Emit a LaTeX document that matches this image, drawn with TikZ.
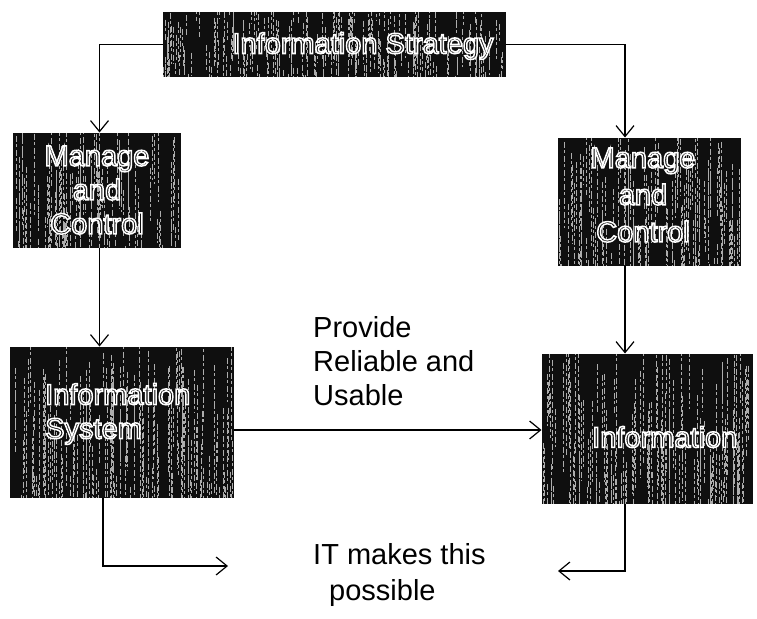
\documentclass[tikz,border=0pt]{standalone}
\usepackage{fontspec}
\setmainfont{Liberation Sans}
\usetikzlibrary{arrows.meta}
\definecolor{boxink}{gray}{0.06}

\tikzset{
  darkbox/.style={fill=boxink, draw=boxink, line width=1pt, inner sep=0pt},
  streak/.style={draw=white!68!black, line width=0.6pt,
                 dash pattern=on 6pt off 2pt on 3pt off 3pt},
  boxtext/.style={text=boxink, font=\fontsize{29}{34}\selectfont, inner sep=0pt, align=center},
  plain/.style={font=\fontsize{29}{34}\selectfont, inner sep=0pt, align=left},
  link/.style={draw=black, line width=1.2pt,
               -{Straight Barb[length=11pt,width=18pt,line width=1.2pt]}},
}

% outlined lettering: dark glyph fill with a white stroked rim
\newcommand\rimtext[1]{\special{pdf:code q 2 Tr 1 1 1 RG 1.5 w}#1\special{pdf:code Q}}

% dark box with light vertical streaks: name, x1, y1, x2, y2
\newcommand\streakbox[5]{%
  \node[darkbox, minimum width={#4-#2}, minimum height={#5-#3}] (#1)
       at ({(#2+#4)/2},{(#3+#5)/2}) {};
  \begin{scope}
    \clip (#2,#3) rectangle (#4,#5);
    \pgfmathtruncatemacro\nstreak{(#4-#2)*0.7}
    \foreach \k in {1,...,\nstreak}{%
      \pgfmathsetmacro\sx{#2+(#4-#2)*rnd}%
      \pgfmathsetmacro\sy{#3-10+(#5-#3+10)*rnd}%
      \pgfmathsetmacro\sl{(#5-#3)*(0.2+0.6*rnd)}%
      \draw[streak] (\sx,\sy) -- (\sx,\sy+\sl);
    }
  \end{scope}}

\begin{document}
\begin{tikzpicture}[x=1pt, y=-1pt]
  \pgfmathsetseed{11}
  \useasboundingbox (0,0) rectangle (757,618);

  % boxes
  \streakbox{strat}{163}{13}{505}{76}
  \streakbox{mcl}{13}{133}{180}{247}
  \streakbox{mcr}{558}{138}{740}{265}
  \streakbox{sys}{10}{347}{233}{497}
  \streakbox{info}{542}{354}{752}{503}

  % box labels
  \node[boxtext] (strat-t) at (363,46) {\rimtext{Information Strategy}};
  \node[boxtext] (mcl-t) at (97,190) {\rimtext{Manage}\\\rimtext{and}\\\rimtext{Control}};
  \node[boxtext] (mcr-t) at (643,195) {\rimtext{Manage}\\[3pt]\rimtext{and}\\[3pt]\rimtext{Control}};
  \node[boxtext, anchor=west, align=left] (sys-t) at (45,414) {\rimtext{Information}\\\rimtext{System}};
  \node[boxtext, anchor=west] (info-t) at (592,437) {\rimtext{Information}};

  % free texts
  \node[plain, anchor=north west] (prov) at (313,316) {Provide\\Reliable and\\Usable};
  \node[plain, anchor=north west] (itm) at (313,543) {IT makes this\\[2pt]\hspace{16pt}possible};

  % connectors
  \coordinate (itl) at (228,566);
  \coordinate (itr) at (558,571);
  \draw[link] (strat.west) -| ([xshift=3pt]mcl.north);
  \draw[link] (strat.east) -| ([xshift=-24pt]mcr.north);
  \draw[link] ([xshift=3pt]mcl.south) -- ([xshift=3pt]mcl.south |- sys.north);
  \draw[link] ([xshift=-24pt]mcr.south) -- ([xshift=-24pt]mcr.south |- info.north);
  \draw[link] ([yshift=-8pt]sys.east) -- ([yshift=-8pt]sys.east -| info.west);
  \draw[link] ([xshift=-18.5pt]sys.south) |- (itl);
  \draw[link] ([xshift=-22pt]info.south) |- (itr);
\end{tikzpicture}
\end{document}
